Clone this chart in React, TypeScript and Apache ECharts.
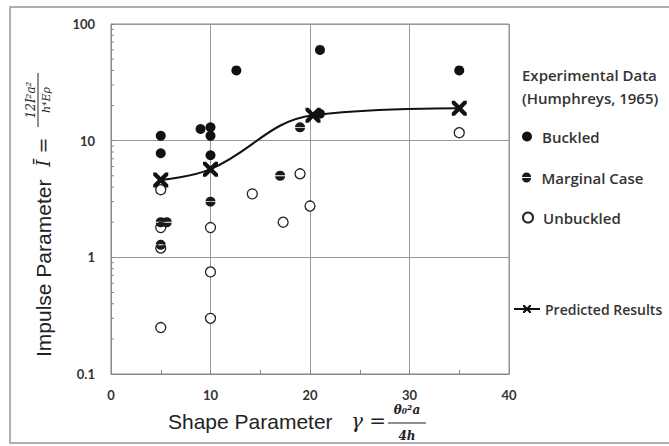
import React, { useEffect, useRef } from "react";
import * as echarts from "echarts";

const buckledX = [5, 5, 9, 10, 10, 10, 12.6, 21, 21, 35];
const buckledY = [11, 7.8, 12.6, 13, 11, 7.5, 40, 60, 17, 40];
const marginalX = [19, 17, 10, 5, 5.6, 5];
const marginalY = [13, 5, 3, 2, 2, 1.28];
const unbuckledX = [5, 19, 14.2, 5, 5, 10, 17.3, 20, 10, 10, 5, 35];
const unbuckledY = [3.8, 5.2, 3.5, 1.8, 1.2, 1.8, 2, 2.75, 0.75, 0.3, 0.25, 11.7];
const predictedX = [5, 10, 20.3, 35];
const predictedY = [4.6, 5.7, 16.5, 19];
const yMinorTicks = [0.2, 0.3, 0.4, 0.5, 0.6, 0.7, 0.8, 0.9, 2, 3, 4, 5, 6, 7, 8, 9, 20, 30, 40, 50, 60, 70, 80, 90];

const zip = (xs: number[], ys: number[]) => xs.map((x, i) => [x, ys[i]]);

const MARGINAL = "path://M0,4.6A5,5 0 0 1 10,4.6Z M0,5.6A5,5 0 0 0 10,5.6Z";
const CROSS = "path://M0,0L2,0L5,3L8,0L10,0L10,2L7,5L10,8L10,10L8,10L5,7L2,10L0,10L0,8L3,5L0,2Z";

const LBL = { fontFamily: "Open Sans", fontWeight: 600 as const, fontSize: 15, color: "#333" };

export default function App() {
  const ref = useRef<HTMLDivElement>(null);
  useEffect(() => {
    const chart = echarts.init(ref.current!, null, { renderer: "svg" });
    const legendBase = {
      orient: "vertical" as const,
      itemWidth: 20,
      itemHeight: 10,
      itemGap: 5,
      textStyle: LBL,
      selectedMode: false,
      padding: 0,
    };
    chart.setOption({
      animation: false,
      backgroundColor: "#fff",
      grid: { left: 111, right: 160, top: 24, bottom: 72, show: true, borderColor: "#888", borderWidth: 1 },
      xAxis: {
        type: "value",
        min: 0,
        max: 40,
        interval: 10,
        axisLine: { show: true, lineStyle: { color: "#888" } },
        axisTick: { show: true, inside: true, length: 4, lineStyle: { color: "#888" } },
        minorTick: { show: true, splitNumber: 2, length: 4, lineStyle: { color: "#888" } },
        splitLine: { show: true, lineStyle: { color: "#999", width: 1 } },
        axisLabel: { margin: 14, fontFamily: "Lato", fontWeight: "bold", fontSize: 13, color: "#333" },
      },
      yAxis: {
        type: "log",
        logBase: 10,
        min: 0.1,
        max: 100,
        axisLine: { show: true, lineStyle: { color: "#888" } },
        axisTick: { show: true, inside: true, length: 4, lineStyle: { color: "#888" } },
        splitLine: { show: true, lineStyle: { color: "#999", width: 1 } },
        axisLabel: {
          margin: 16,
          fontFamily: "Lato",
          fontWeight: "bold",
          fontSize: 13,
          color: "#333",
          formatter: (v: number) => String(Math.round(v * 10) / 10),
        },
      },
      legend: [
        { ...legendBase, data: ["Buckled"], left: 522, top: 129 },
        { ...legendBase, data: ["Marginal Case"], left: 522, top: 170 },
        { ...legendBase, data: ["Unbuckled"], left: 522, top: 210 },
        {
          ...legendBase,
          data: ["Predicted Results"],
          left: 513,
          top: 302,
          itemWidth: 26,
          textStyle: { ...LBL, fontSize: 14 },
        },
      ],
      graphic: [
        {
          type: "rect",
          shape: { x: 10, y: 7, width: 700, height: 436 },
          style: { fill: "none", stroke: "#8a99a6", lineWidth: 1.5 },
          silent: true,
        },
        { type: "text", x: 522, y: 75, style: { fill: "#333", text: "Experimental Data", verticalAlign: "middle", font: "600 15px 'Open Sans'" } },
        { type: "text", x: 522, y: 98, style: { fill: "#333", text: "(Humphreys, 1965)", verticalAlign: "middle", font: "600 15px 'Open Sans'" } },
        // x-axis title
        { type: "text", x: 168, y: 421, style: { fill: "#222", text: "Shape Parameter", verticalAlign: "middle", font: "21px 'Liberation Sans'" } },
        { type: "text", x: 351, y: 421, style: { fill: "#222", text: "γ =", verticalAlign: "middle", font: "italic 20px 'DejaVu Serif'" } },
        { type: "text", x: 407, y: 410, style: { fill: "#222", text: "θ₀²a", align: "center", verticalAlign: "middle", font: "italic bold 12px 'DejaVu Serif'" } },
        { type: "line", shape: { x1: 388, y1: 423, x2: 426, y2: 423 }, style: { stroke: "#222", lineWidth: 1.2 } },
        { type: "text", x: 407, y: 436, style: { fill: "#222", text: "4h", align: "center", verticalAlign: "middle", font: "italic bold 12px 'DejaVu Serif'" } },
        // y-axis title (rotated group)
        {
          type: "group",
          x: 43,
          y: 357,
          rotation: Math.PI / 2,
          children: [
            { type: "text", x: 0, y: 0, style: { fill: "#222", text: "Impulse Parameter", verticalAlign: "middle", font: "21px 'Liberation Sans'" } },
            { type: "text", x: 190, y: 0, style: { fill: "#222", text: "Ī =", verticalAlign: "middle", font: "italic 19px 'DejaVu Serif'" } },
            { type: "text", x: 257, y: -12, style: { fill: "#222", text: "12I²a²", align: "center", verticalAlign: "middle", font: "italic 12px 'DejaVu Serif'" } },
            { type: "line", shape: { x1: 230, y1: -5, x2: 284, y2: -5 }, style: { stroke: "#222", lineWidth: 1 } },
            { type: "text", x: 257, y: 3, style: { fill: "#222", text: "h⁴Eρ", align: "center", verticalAlign: "middle", font: "italic 11px 'DejaVu Serif'" } },
          ],
        },
      ],
      series: [
        {
          type: "custom",
          silent: true,
          data: yMinorTicks.map((v) => [0, v]),
          clip: false,
          z: 1,
          renderItem: (_p: any, api: any) => {
            const pt = api.coord([0, api.value(1)]);
            return {
              type: "line",
              shape: { x1: pt[0], y1: pt[1], x2: pt[0] + 3, y2: pt[1] },
              style: { stroke: "#888", lineWidth: 1 },
            };
          },
        },
        {
          name: "Unbuckled",
          type: "scatter",
          data: zip(unbuckledX, unbuckledY),
          symbol: "circle",
          symbolSize: 10,
          itemStyle: { color: "#fff", borderColor: "#222", borderWidth: 1.3, opacity: 1 },
          z: 3,
        },
        {
          name: "Marginal Case",
          type: "scatter",
          data: zip(marginalX, marginalY),
          symbol: MARGINAL,
          symbolSize: 10,
          itemStyle: { color: "#1a1a1a", opacity: 1 },
          z: 4,
        },
        {
          name: "Buckled",
          type: "scatter",
          data: zip(buckledX, buckledY),
          symbol: "circle",
          symbolSize: 10,
          itemStyle: { color: "#111", opacity: 1 },
          z: 5,
        },
        {
          name: "Predicted Results",
          type: "line",
          data: zip(predictedX, predictedY),
          smooth: 0.4,
          symbol: CROSS,
          symbolSize: 15,
          showAllSymbol: true,
          lineStyle: { color: "#111", width: 2 },
          itemStyle: { color: "#111" },
          z: 6,
        },
      ],
    });
    return () => chart.dispose();
  }, []);
  return <div ref={ref} style={{ position: "absolute", left: 0, top: 0, width: 669, height: 446 }} />;
}
